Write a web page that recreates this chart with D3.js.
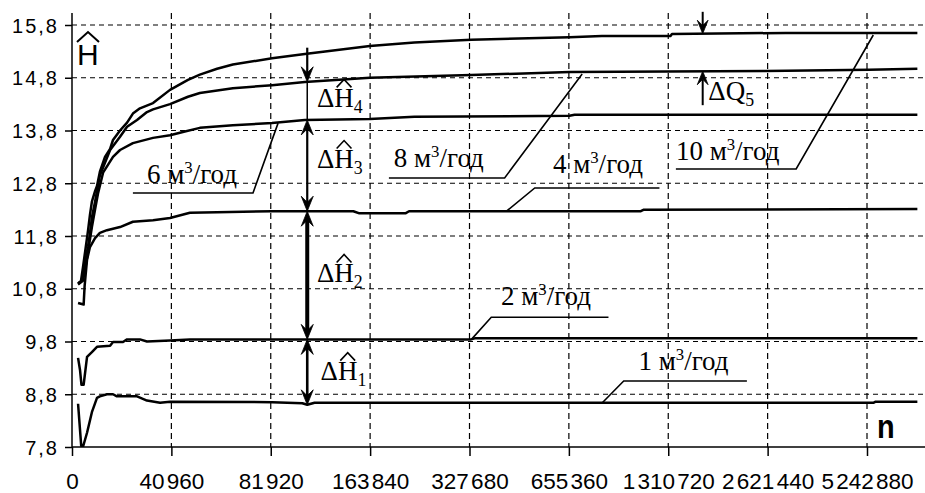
<!DOCTYPE html>
<html><head><meta charset="utf-8">
<script src="https://cdn.jsdelivr.net/npm/d3@7"></script>
<style>
html,body{margin:0;padding:0;background:#fff;}
svg{display:block;}
</style></head><body>
<svg id="chart" width="925" height="493"></svg>
<script>
// ---------------- DATA ----------------
const xTickValues = [0, 40960, 81920, 163840, 327680, 655360, 1310720, 2621440, 5242880];
const yTickValues = [7.8, 8.8, 9.8, 10.8, 11.8, 12.8, 13.8, 14.8, 15.8];
const rates = [1, 2, 4, 6, 8, 10]; // м³/год

const curve1 = [[2500,8.62],[3800,7.82],[4500,7.8],[6200,8.07],[8200,8.46],[10300,8.73],[11500,8.76],[14400,8.8],[16900,8.8],[18500,8.76],[26800,8.76],[30900,8.68],[36300,8.64],[40400,8.66],[83000,8.65],[108000,8.63],[112000,8.6],[118000,8.64],[5600000,8.64],[5700000,8.66],[7900000,8.66]];
const curve2 = [[2500,9.49],[3300,9.26],[3900,8.98],[4800,8.98],[6200,9.51],[8200,9.6],[10300,9.7],[15700,9.72],[16900,9.79],[21000,9.79],[22700,9.84],[28000,9.84],[30900,9.8],[40400,9.82],[48600,9.84],[110000,9.84],[333000,9.84],[345000,9.86],[7900000,9.86]];
const curve4 = [[2500,10.53],[4800,10.5],[5200,10.85],[6200,11.35],[7400,11.59],[9500,11.76],[11500,11.86],[14400,11.91],[19800,11.97],[25100,12.07],[33400,12.1],[40400,12.14],[48600,12.24],[59800,12.25],[83000,12.27],[150000,12.27],[155000,12.23],[222000,12.23],[228000,12.27],[1130000,12.27],[1150000,12.3],[7900000,12.31]];
const curve6 = [[2500,10.88],[4500,10.95],[5400,11.16],[6600,11.5],[8200,11.97],[9500,12.3],[10700,12.6],[12800,13.0],[16900,13.3],[19800,13.43],[25100,13.56],[33400,13.66],[40400,13.71],[45700,13.77],[52700,13.85],[66300,13.9],[83000,13.94],[110000,14.0],[163600,14.02],[236800,14.06],[660000,14.08],[693000,14.1],[7900000,14.1]];
const curve8 = [[2500,10.9],[4100,10.95],[5400,11.3],[6600,11.6],[7400,11.85],[8200,12.15],[9500,12.45],[10700,12.75],[11500,12.95],[12800,13.1],[15700,13.43],[19800,13.68],[22700,13.87],[26800,14.0],[30900,14.15],[33400,14.2],[40400,14.3],[47800,14.44],[52700,14.51],[66300,14.6],[83000,14.66],[110000,14.72],[163600,14.8],[333000,14.85],[660000,14.91],[2600000,14.93],[5350000,14.95],[7900000,14.97]];
const curve10 = [[2500,10.9],[3700,10.95],[4500,11.2],[5400,11.5],[6600,11.9],[7400,12.2],[8200,12.45],[9500,12.65],[10300,12.75],[11500,13.02],[13600,13.3],[15700,13.45],[16900,13.62],[19800,13.8],[22700,13.95],[25100,14.12],[28000,14.22],[33400,14.32],[40400,14.57],[47800,14.76],[52700,14.86],[59800,14.97],[66300,15.05],[83000,15.17],[110000,15.25],[163600,15.4],[236800,15.47],[333000,15.52],[660000,15.57],[873000,15.59],[1340000,15.59],[1360000,15.63],[3100000,15.65],[7900000,15.65]];
const curves = [curve1, curve2, curve4, curve6, curve8, curve10];

// annotation anchors, in data units [n, H]
const rateLabels = [
  {rate: 6,  text: [30900, 12.80],   leader: [[25100,12.615],[74600,12.615],[87960,13.94]]},
  {rate: 8,  text: [202800, 13.11],  leader: [[194800,12.9],[443500,12.9],[743000,14.87]]},
  {rate: 4,  text: [602700, 12.99],  leader: [[449700,12.27],[542900,12.71],[1252600,12.71]]},
  {rate: 10, text: [1411400, 13.24], leader: [[1411400,13.07],[3374000,13.07],[5575000,15.61]]},
  {rate: 2,  text: [431300, 10.49],  leader: [[335500,9.85],[399500,10.26],[916500,10.26]]},
  {rate: 1,  text: [1114000, 9.26],  leader: [[872600,8.63],[1017000,9.05],[2348000,9.05]]}
];
const deltaHn = 112000;      // n of the ΔĤ arrows
const deltaHtop = 15.37;     // top of the ΔĤ4 arrow
const deltaHLabels = [
  {i: 4, text: [120000, 14.25]},
  {i: 3, text: [120000, 13.09]},
  {i: 2, text: [120000, 10.93]},
  {i: 1, text: [123000, 9.07]}
];
const deltaQn = 1765000;
const deltaQtop = 16.05, deltaQbottom = 14.28;
const deltaQLabel = [1839000, 14.38];

// ---------------- LAYOUT ----------------
const W = 925, H = 493;
const L = 72, T = 25, B = 447, STEP = 99.375, TOPLINE = 13;
const SANS = "'Liberation Sans', Arial, sans-serif";
const SERIF = "'Liberation Serif', 'Times New Roman', serif";

const svg = d3.select("#chart");
svg.append("rect").attr("width", W).attr("height", H).attr("fill", "#fff");

const xDomain = xTickValues.concat([10485760]);
const x = d3.scaleLinear().domain(xDomain).range(xDomain.map((d, i) => L + i * STEP));
const y = d3.scaleLinear().domain([7.8, 15.8]).range([B, T]);

svg.append("defs").append("clipPath").attr("id", "clip")
  .append("rect").attr("x", L).attr("y", 0).attr("width", W - L).attr("height", B);

// grid
const grid = svg.append("g").attr("stroke", "#000").attr("stroke-width", 1.2).attr("fill", "none");
grid.selectAll("line.h").data(yTickValues.slice(1)).join("line").attr("class", "h")
  .attr("stroke-dasharray", "5,4")
  .attr("x1", L).attr("x2", W).attr("y1", d => y(d)).attr("y2", d => y(d));
grid.selectAll("line.v").data(xTickValues.slice(1)).join("line").attr("class", "v")
  .attr("stroke-dasharray", "6,4")
  .attr("x1", d => x(d)).attr("x2", d => x(d)).attr("y1", TOPLINE).attr("y2", B);

// axes
const yFmt = d => d3.format(".1f")(d).replace(".", ",");
const xFmt = d => d3.format(",")(d).replace(/,/g, " ");

const yAxis = svg.append("g").attr("transform", `translate(${L},0)`)
  .call(d3.axisLeft(y).tickValues(yTickValues).tickSize(7).tickSizeOuter(0).tickFormat(yFmt));
yAxis.select(".domain").remove();
yAxis.selectAll(".tick line").attr("stroke", "#000").attr("stroke-width", 1.5);
yAxis.selectAll(".tick text").attr("x", -13).attr("dy", "0.36em")
  .attr("font-family", SANS).attr("font-size", 20).attr("letter-spacing", 2).attr("fill", "#000");

const xAxis = svg.append("g").attr("transform", `translate(0,${B})`)
  .call(d3.axisBottom(x).tickValues(xTickValues).tickSize(9).tickSizeOuter(0).tickFormat(xFmt));
xAxis.select(".domain").remove();
xAxis.selectAll(".tick line").attr("stroke", "#000").attr("stroke-width", 1.5);
xAxis.selectAll(".tick text").attr("y", 42).attr("dy", "0")
  .attr("font-family", SANS).attr("font-size", 22.5).attr("word-spacing", -4).attr("fill", "#000");

svg.append("line").attr("x1", L).attr("x2", L).attr("y1", TOPLINE).attr("y2", B)
  .attr("stroke", "#000").attr("stroke-width", 1.5);
svg.append("line").attr("x1", L).attr("x2", W).attr("y1", B).attr("y2", B)
  .attr("stroke", "#000").attr("stroke-width", 1.5);

// curves
const line = d3.line().x(d => x(d[0])).y(d => y(d[1]));
svg.append("g").attr("clip-path", "url(#clip)")
  .selectAll("path").data(curves).join("path")
  .attr("d", line).attr("fill", "none").attr("stroke", "#000")
  .attr("stroke-width", 2.5).attr("stroke-linejoin", "round");

function valueAt(series, n) {
  const px = x(n);
  for (let i = 1; i < series.length; i++) {
    const a = series[i - 1], b = series[i];
    if (n >= a[0] && n <= b[0]) {
      const xa = x(a[0]), xb = x(b[0]);
      const t = xb === xa ? 0 : (px - xa) / (xb - xa);
      return a[1] + t * (b[1] - a[1]);
    }
  }
  return series[series.length - 1][1];
}

const ann = svg.append("g");
function arrowHead(px, py, dir, s = 1) {
  const w = 6 * s, h = 15 * s, n = 9 * s;
  ann.append("path")
    .attr("d", `M0,0 L${-w},${-h} L0,${-n} L${w},${-h} Z`)
    .attr("transform", `translate(${px},${py}) scale(1,${dir})`)
    .attr("fill", "#000").attr("stroke", "#000").attr("stroke-width", 0.8).attr("stroke-linejoin", "miter");
}
function vline(px, y1, y2, w) {
  ann.append("line").attr("x1", px).attr("x2", px).attr("y1", y1).attr("y2", y2)
    .attr("stroke", "#000").attr("stroke-width", w);
}

// ΔĤ arrows
const ax = x(deltaHn);
const h8 = y(valueAt(curve8, deltaHn)), h6 = y(valueAt(curve6, deltaHn)),
      h4 = y(valueAt(curve4, deltaHn)), h2 = y(valueAt(curve2, deltaHn)),
      h1 = y(valueAt(curve1, deltaHn));
vline(ax, y(deltaHtop), h8 - 8, 2.2);
vline(ax, h8, h6, 1.5);
vline(ax, h6 + 8, h4 - 8, 2.2);
vline(ax, h4 + 8, h2 - 8, 4);
vline(ax, h2 + 8, h1 - 8, 2.6);
arrowHead(ax, h8, 1);
arrowHead(ax, h6, -1);
arrowHead(ax, h4, 1);
arrowHead(ax, h4, -1);
arrowHead(ax, h2, 1);
arrowHead(ax, h2, -1);
arrowHead(ax, h1, 1);

// ΔQ5 arrows
const qx = x(deltaQn);
const q10 = y(valueAt(curve10, deltaQn)), q8 = y(valueAt(curve8, deltaQn));
vline(qx, y(deltaQtop), q10 - 8, 2);
arrowHead(qx, q10, 1, 0.9);
vline(qx, q8 + 8, y(deltaQbottom), 2);
arrowHead(qx, q8, -1, 0.9);

// text helper with sup/sub/hat parts
function richText(px, py, parts, size, family) {
  const g = svg.append("g").attr("transform", `translate(${px},${py})`);
  const t = g.append("text").attr("font-family", family).attr("font-size", size).attr("fill", "#000");
  let shift = 0, idx = 0; const hats = [];
  parts.forEach(p => {
    const ts = t.append("tspan").text(p.t);
    let target = 0, fs = size;
    if (p.k === "sup") { target = -size * 0.38; fs = size * 0.62; }
    if (p.k === "sub") { target = size * 0.22; fs = size * 0.66; }
    ts.attr("font-size", fs);
    if (target !== shift) { ts.attr("dy", target - shift); shift = target; }
    if (p.k === "hat") hats.push(idx);
    idx += p.t.length;
  });
  hats.forEach(i => {
    const e = t.node().getExtentOfChar(i);
    const top = e.y + e.height * 0.22;
    g.append("path")
      .attr("d", `M${e.x + e.width * 0.12},${top - 2} L${e.x + e.width * 0.5},${top - 10} L${e.x + e.width * 0.88},${top - 2}`)
      .attr("fill", "none").attr("stroke", "#000").attr("stroke-width", 1.6);
  });
  return g;
}

// rate labels with leaders
const leaderLine = d3.line().x(d => x(d[0])).y(d => y(d[1]));
rateLabels.forEach(l => {
  ann.append("path").attr("d", leaderLine(l.leader)).attr("fill", "none")
    .attr("stroke", "#000").attr("stroke-width", 1.6);
  richText(x(l.text[0]), y(l.text[1]),
    [{t: `${l.rate} м`}, {t: "3", k: "sup"}, {t: "/год"}], 27, SERIF);
});

// ΔĤ labels
deltaHLabels.forEach(l => {
  richText(x(l.text[0]), y(l.text[1]),
    [{t: "Δ"}, {t: "H", k: "hat"}, {t: String(l.i), k: "sub"}], 27, SERIF);
});
richText(x(deltaQLabel[0]), y(deltaQLabel[1]),
  [{t: "ΔQ"}, {t: "5", k: "sub"}], 27, SERIF);

// axis titles
svg.append("text").attr("x", 77).attr("y", 65).attr("font-family", SANS)
  .attr("font-size", 30).attr("fill", "#000").text("H");
svg.append("path").attr("d", "M77,42 L88,32 L99,42").attr("fill", "none")
  .attr("stroke", "#000").attr("stroke-width", 2);
svg.append("g").attr("transform", "translate(877,438) scale(0.85,1)")
  .append("text").attr("font-family", SANS).attr("font-weight", "bold")
  .attr("font-size", 34).attr("fill", "#000").text("n");
</script>
</body></html>
